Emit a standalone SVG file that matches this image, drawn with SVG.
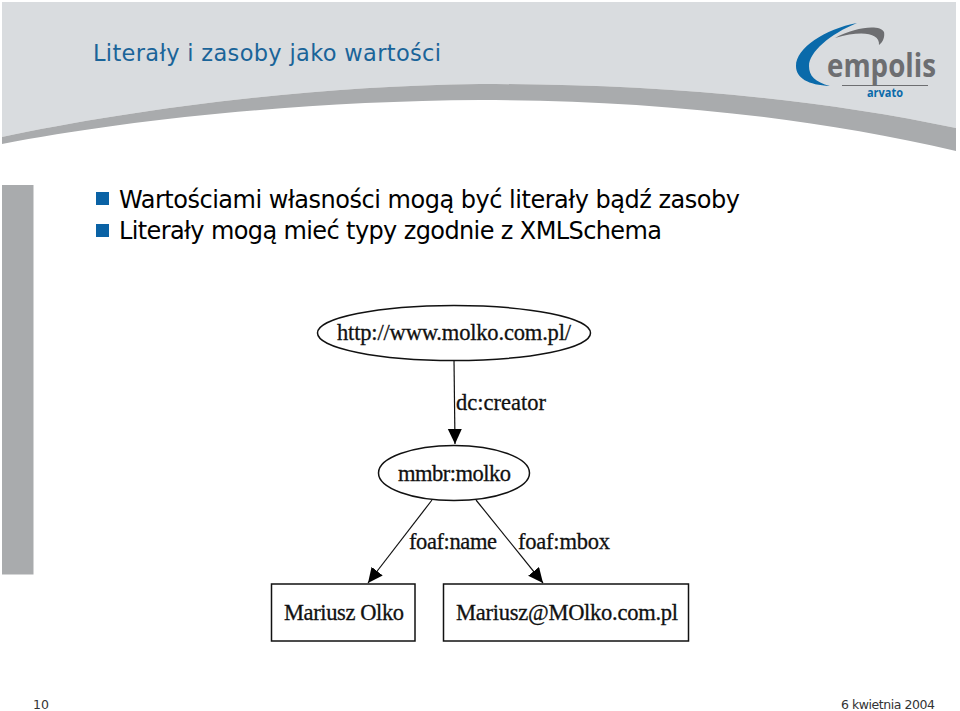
<svg xmlns="http://www.w3.org/2000/svg" width="960" height="711" viewBox="0 0 960 711">
<style>
.d{font-family:"DejaVu Sans",sans-serif}
.b{font-size:24px;fill:#000}
.g{font-family:"Liberation Serif",serif;font-size:22.5px;fill:#111;stroke:#111;stroke-width:.3}
.n{fill:#fff;stroke:#111;stroke-width:1.5}
.e{fill:none;stroke:#111;stroke-width:1.2}
.h{fill:#000}
.q{fill:#0a62a5}
.f{font-size:12.5px;fill:#333}
</style>
<rect width="960" height="711" fill="#fff"/>
<path d="M2 2H956V128C800 95 640 84 480 84C300 86 120 112 2 137Z" fill="#d9dcdf"/>
<path d="M2 137C120 112 300 86 480 84C640 84 800 95 956 128V151C800 115 640 100 480 100C300 101 120 121 2 144Z" fill="#a9abad"/>
<text class="d" x="93" y="61" font-size="22.5" fill="#1a6499" textLength="348">Literały i zasoby jako wartości</text>
<g id="logo">
<path d="M857 23C825 29 796 48 796 66C796 78 808 85 830 86C815 82 809 76 809 66C809 52 830 34 857 23Z" fill="#0a6aaa"/>
<path d="M835 38C855 27 880 24 884 32C885 37 883 42 879 45C880 33 862 30 835 38Z" fill="#6d6e71"/>
<text x="827" y="77" font-family="Open Sans, sans-serif" font-size="32" font-weight="700" fill="#6d6e71" textLength="109" lengthAdjust="spacingAndGlyphs">empolis</text>
<rect x="842" y="85" width="86" height="1" fill="#6d6e71"/>
<text x="867" y="97" font-family="Open Sans, sans-serif" font-size="12.500" font-weight="700" fill="#0a6aaa" textLength="36" lengthAdjust="spacingAndGlyphs">arvato</text>
</g>
<rect x="2" y="185" width="31.500" height="389.500" fill="#a9abad"/>
<g id="bullets">
<rect class="q" x="96" y="192" width="13" height="13"/>
<rect class="q" x="96" y="224" width="13" height="13"/>
<text class="d b" x="119" y="208" textLength="621">Wartościami własności mogą być literały bądź zasoby</text>
<text class="d b" x="119" y="239" textLength="543">Literały mogą mieć typy zgodnie z XMLSchema</text>
</g>
<defs><marker id="a" markerUnits="userSpaceOnUse" markerWidth="16" markerHeight="16" refX="15" refY="7" orient="auto"><path d="M0 0L15 7L0 14Z" class="h"/></marker></defs>
<g id="connectors">
<path class="e" d="M454 360L455 444" marker-end="url(#a)"/>
<path class="e" d="M432 500L368 583" marker-end="url(#a)"/>
<path class="e" d="M476 500L543 583" marker-end="url(#a)"/>
<text class="g" x="456" y="410" textLength="90">dc:creator</text>
<text class="g" x="409" y="549" textLength="88">foaf:name</text>
<text class="g" x="518" y="549" textLength="92">foaf:mbox</text>
</g>
<g id="n1"><ellipse class="n" cx="454" cy="333" rx="136.500" ry="27.500"/><text class="g" x="337" y="340" textLength="234">http://www.molko.com.pl/</text></g>
<g id="n2"><ellipse class="n" cx="454" cy="473" rx="75.500" ry="27.500"/><text class="g" x="398" y="481" textLength="113">mmbr:molko</text></g>
<g id="n3"><rect class="n" x="271.500" y="584" width="143.500" height="57"/><text class="g" x="284" y="620" textLength="120">Mariusz Olko</text></g>
<g id="n4"><rect class="n" x="443.500" y="584" width="245" height="57"/><text class="g" x="456" y="620" textLength="222">Mariusz@MOlko.com.pl</text></g>
<text class="d f" x="33" y="709">10</text>
<text class="d f" x="841" y="709" textLength="94">6 kwietnia 2004</text>
</svg>
